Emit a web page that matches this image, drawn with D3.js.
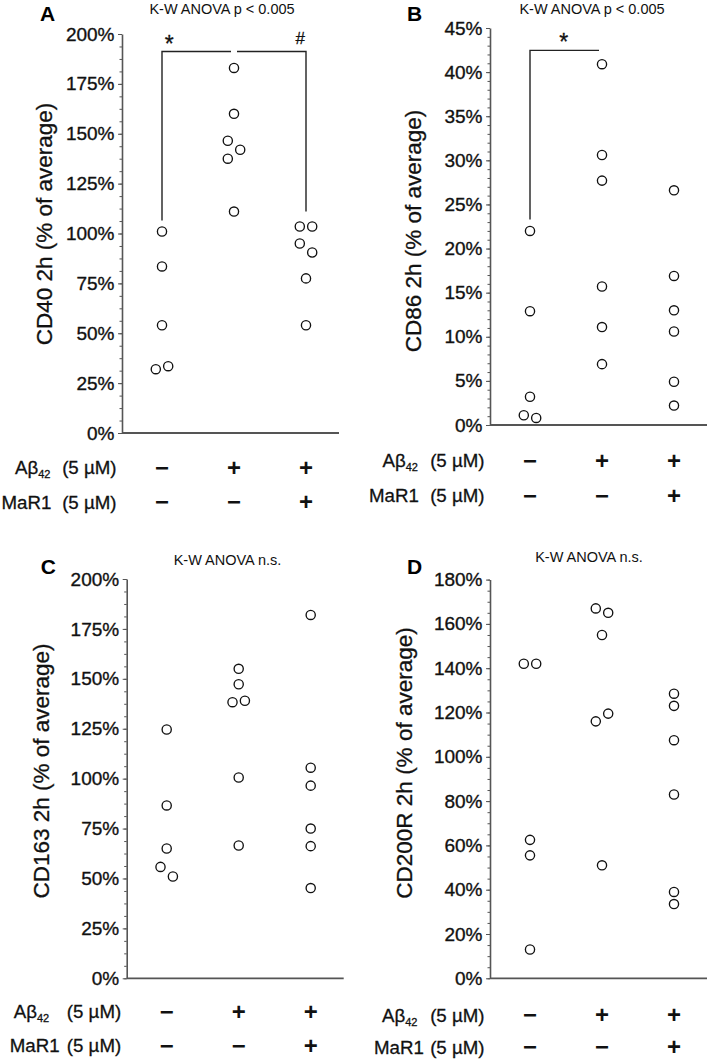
<!DOCTYPE html>
<html><head><meta charset="utf-8">
<script src="https://cdn.jsdelivr.net/npm/d3@7"></script>
<style>
html,body{margin:0;padding:0;background:#fff;}
svg{display:block;font-family:"Liberation Sans",Arial,Helvetica,sans-serif;}
</style></head>
<body>
<script>
// ---------- data ----------
const groups = ["control", "Abeta42", "Abeta42+MaR1"];
const abetaSigns = ["\u2212", "+", "+"];
const mar1Signs = ["\u2212", "\u2212", "+"];

const cd40Values = [[101, 83.5, 54, 32, 33.5], [183, 160, 146.5, 142, 137.5, 111], [103.5, 103.5, 95, 90.5, 77.5, 54]];
const cd40Dodge  = [[0, 0, 0, -1, 1], [0, 0, -1, 1, -1, 0], [-1, 1, -1, 1, 0, 0]];

const cd86Values = [[22, 12.9, 3.2, 1.1, 0.8], [40.9, 30.6, 27.7, 15.7, 11.1, 6.9], [26.6, 16.9, 13, 10.6, 4.9, 2.2]];
const cd86Dodge  = [[0, 0, 0, -1, 1], [0, 0, 0, 0, 0, 0], [0, 0, 0, 0, 0, 0]];

const cd163Values = [[124.6, 86.6, 65, 55.8, 51], [155, 147.3, 138.3, 139, 100.6, 66.5], [182, 105.5, 96.5, 75, 66.2, 45.2]];
const cd163Dodge  = [[0, 0, 0, -1, 1], [0, 0, -1, 1, 0, 0], [0, 0, 0, 0, 0, 0]];

const cd200rValues = [[142, 142, 62.5, 55.5, 13], [167, 165, 155, 116, 119.5, 51], [128.5, 123, 107.5, 83, 39, 33.5]];
const cd200rDodge  = [[-1, 1, 0, 0, 0], [-1, 1, 0, -1, 1, 0], [0, 0, 0, 0, 0, 0]];

const yLabels = ["CD40 2h (% of average)", "CD86 2h (% of average)", "CD163 2h (% of average)", "CD200R 2h (% of average)"];
const titles = ["K-W ANOVA p < 0.005", "K-W ANOVA p < 0.005", "K-W ANOVA n.s.", "K-W ANOVA n.s."];
const panelLetters = ["A", "B", "C", "D"];
const yMaxes = [200, 45, 200, 180];
const yMajorSteps = [25, 5, 25, 20];
const yMinorDiv = [4, 5, 4, 4];

// significance brackets (in group index / value units)
const cd40Brackets = [
  {from: 0, to: 1, level: 191.2, legFrom: 106.5, legTo: null, label: "*", labelAt: 0.1},
  {from: 1, to: 2, level: 191.2, legFrom: null, legTo: 111, label: "#", labelAt: 0.92}
];
const cd86Brackets = [
  {from: 0, to: 1, level: 42.46, legFrom: 23.3, legTo: null, label: "*", labelAt: 0.47}
];

// ---------- layout ----------
const W = 709, H = 1060;
const font = '"Liberation Sans",Arial,Helvetica,sans-serif';
const panels = [
  {values: cd40Values, dodge: cd40Dodge, brackets: cd40Brackets, ax: 122, yTop: 34, y0: 433,
   title: [222, 13.5], letter: [40, 20.5], ylab: [51.5, 224], rows: [467, 501.5], nameX: [-107, -120.5]},
  {values: cd86Values, dodge: cd86Dodge, brackets: cd86Brackets, ax: 490, yTop: 28, y0: 425,
   title: [592, 13.5], letter: [407, 20.5], ylab: [420.7, 231], rows: [460, 495], nameX: [-107.5, -121]},
  {values: cd163Values, dodge: cd163Dodge, brackets: [], ax: 126.7, yTop: 579, y0: 978.3,
   title: [227.5, 565], letter: [40.7, 573.5], ylab: [49.3, 771], rows: [1011, 1045], nameX: [-113, -117]},
  {values: cd200rValues, dodge: cd200rDodge, brackets: [], ax: 490, yTop: 579.6, y0: 978.3,
   title: [589, 562], letter: [407, 573.5], ylab: [412.3, 763], rows: [1014.5, 1046.5], nameX: [-108, -116]}
];

const svg = d3.select("body").append("svg").attr("width", W).attr("height", H);
const axisColor = "#555";
const ink = "#111";

function heavy(sel, w) {
  return sel.attr("stroke", ink).attr("stroke-width", w).attr("paint-order", "stroke");
}

panels.forEach((p, i) => {
  const g = svg.append("g");
  const y = d3.scaleLinear().domain([0, yMaxes[i]]).range([p.y0, p.yTop]);
  const x = d3.scalePoint().domain(groups).range([p.ax + 40, p.ax + 184]);
  const step = x.step();
  const dodgePx = 6.2;

  // minor ticks
  const minorStep = yMajorSteps[i] / yMinorDiv[i];
  const minorVals = d3.range(0, yMaxes[i] + minorStep / 2, minorStep);
  g.append("g").attr("transform", `translate(${p.ax},0)`)
    .call(d3.axisLeft(y).tickValues(minorVals).tickSize(2.5).tickSizeOuter(0).tickFormat(""))
    .call(a => a.select(".domain").remove())
    .call(a => a.selectAll("line").attr("stroke", axisColor).attr("stroke-width", 1));

  // major ticks + labels
  const majorVals = d3.range(0, yMaxes[i] + yMajorSteps[i] / 2, yMajorSteps[i]);
  g.append("g").attr("transform", `translate(${p.ax},0)`)
    .call(d3.axisLeft(y).tickValues(majorVals).tickSize(4).tickSizeOuter(0).tickPadding(3.5).tickFormat(d => d + "%"))
    .call(a => a.select(".domain").attr("stroke", axisColor).attr("stroke-width", 1.6))
    .call(a => a.selectAll("line").attr("stroke", axisColor).attr("stroke-width", 1))
    .call(a => heavy(a.selectAll("text").attr("font-size", 19).attr("font-family", font).attr("fill", ink), 0.35));

  // bottom axis line
  g.append("line").attr("x1", p.ax).attr("x2", p.ax + 217).attr("y1", y(0)).attr("y2", y(0))
    .attr("stroke", axisColor).attr("stroke-width", 1.8);

  // points
  p.values.forEach((vals, gi) => {
    g.selectAll(null).data(vals.map((v, k) => ({v, d: p.dodge[gi][k]}))).join("circle")
      .attr("cx", d => x(groups[gi]) + d.d * dodgePx)
      .attr("cy", d => y(d.v))
      .attr("r", 4.6)
      .attr("fill", "#fff").attr("stroke", ink).attr("stroke-width", 1.35);
  });

  // brackets
  p.brackets.forEach(b => {
    const x1 = x(groups[b.from]) + (b.from === 1 ? 3 : 0);
    const x2 = x(groups[b.to]) - (b.to === 1 ? 3 : 0);
    const yl = y(b.level);
    let path = "";
    if (b.legFrom !== null) path += `M${x1},${y(b.legFrom)}L${x1},${yl}L${x2},${yl}`;
    else path += `M${x1},${yl}L${x2},${yl}`;
    if (b.legTo !== null) path += `L${x2},${y(b.legTo)}`;
    g.append("path").attr("d", path).attr("fill", "none").attr("stroke", "#222").attr("stroke-width", 1.4);
    const lx = x(groups[b.from]) + b.labelAt * step;
    const isStar = b.label === "*";
    heavy(g.append("text").attr("x", lx).attr("y", yl + (isStar ? 0 : -7.5))
      .attr("text-anchor", "middle").attr("font-family", font)
      .attr("font-size", isStar ? 23 : 17).attr("fill", ink).text(b.label), 0.3);
  });

  // title
  g.append("text").attr("x", p.title[0]).attr("y", p.title[1]).attr("text-anchor", "middle")
    .attr("font-family", font).attr("font-size", 14.5).attr("fill", ink).text(titles[i]);
  // panel letter
  g.append("text").attr("x", p.letter[0]).attr("y", p.letter[1]).attr("font-family", font)
    .attr("font-weight", "bold").attr("font-size", 21).attr("fill", "#000").text(panelLetters[i]);
  // y label
  heavy(g.append("text").attr("transform", `translate(${p.ylab[0]},${p.ylab[1]}) rotate(-90)`)
    .attr("text-anchor", "middle").attr("font-family", font).attr("font-size", 22.5).attr("fill", ink)
    .text(yLabels[i]), 0.3);

  // treatment rows
  const rowFs = 18.7;
  const r1 = heavy(g.append("text").attr("x", p.ax + p.nameX[0]).attr("y", p.rows[0] + 7)
    .attr("font-family", font).attr("font-size", rowFs).attr("fill", ink), 0.3);
  r1.append("tspan").text("A\u03b2");
  r1.append("tspan").attr("font-size", 11).attr("dy", 4).text("42");
  heavy(g.append("text").attr("x", p.ax - 5.5).attr("y", p.rows[0] + 7).attr("text-anchor", "end")
    .attr("font-family", font).attr("font-size", rowFs).attr("fill", ink).text("(5 \u00b5M)"), 0.3);
  heavy(g.append("text").attr("x", p.ax + p.nameX[1]).attr("y", p.rows[1] + 7)
    .attr("font-family", font).attr("font-size", rowFs).attr("fill", ink).text("MaR1"), 0.3);
  heavy(g.append("text").attr("x", p.ax - 5.5).attr("y", p.rows[1] + 7).attr("text-anchor", "end")
    .attr("font-family", font).attr("font-size", rowFs).attr("fill", ink).text("(5 \u00b5M)"), 0.3);

  // +/- signs
  [abetaSigns, mar1Signs].forEach((signs, ri) => {
    g.selectAll(null).data(signs).join("text")
      .attr("x", (s, gi) => x(groups[gi]))
      .attr("y", p.rows[ri] + 8.5)
      .attr("text-anchor", "middle").attr("font-family", font).attr("font-weight", "bold")
      .attr("font-size", 24).attr("fill", ink).text(s => s);
  });
});
</script>
</body></html>
